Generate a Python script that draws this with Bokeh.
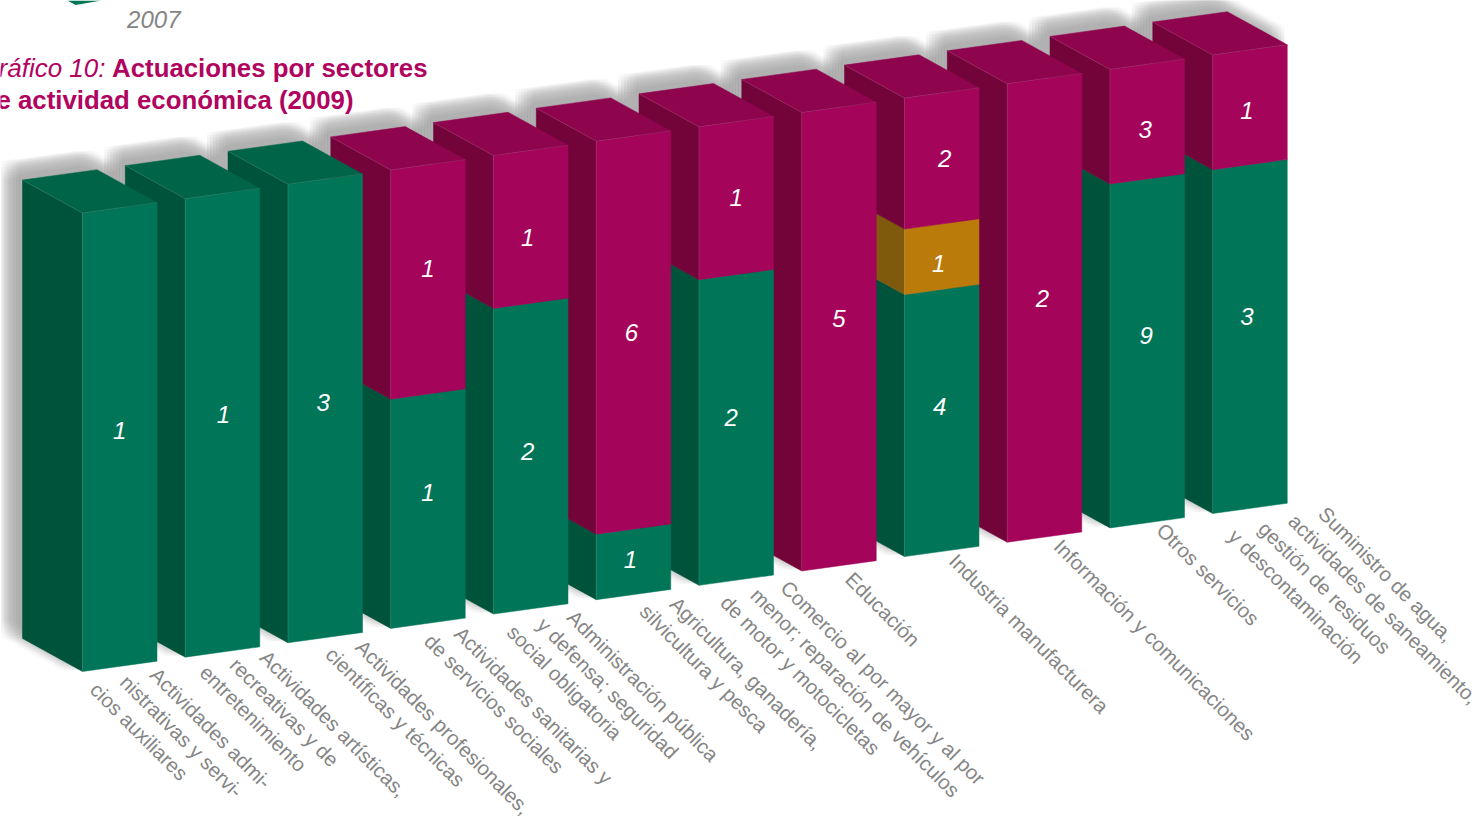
from bokeh.plotting import figure
from bokeh.models import Range1d
from bokeh.core.properties import value
from bokeh.embed import file_html
from bokeh.resources import INLINE
import numpy as np

# ---------- data ----------
categories = [
    ["Actividades admi-", "nistrativas y servi-", "cios auxiliares"],
    ["Actividades artísticas,", "recreativas y de", "entretenimiento"],
    ["Actividades profesionales,", "científicas y técnicas"],
    ["Actividades sanitarias y", "de servicios sociales"],
    ["Administración pública", "y defensa; seguridad", "social obligatoria"],
    ["Agricultura, ganadería,", "silvicultura y pesca"],
    ["Comercio al por mayor y al por", "menor; reparación de vehículos", "de motor y motocicletas"],
    ["Educación"],
    ["Industria manufacturera"],
    ["Información y comunicaciones"],
    ["Otros servicios"],
    ["Suministro de agua,", "actividades de saneamiento,", "gestión de residuos", "y descontaminación"],
]
green   = [1, 1, 3, 1, 2, 1, 2, 0, 4, 0, 9, 3]
orange  = [0, 0, 0, 0, 0, 0, 0, 0, 1, 0, 0, 0]
magenta = [0, 0, 0, 1, 1, 6, 1, 5, 2, 2, 3, 1]

title_lead = "Gráfico 10:"
title_line1 = "Actuaciones por sectores"
title_line2 = "de actividad económica (2009)"
prev_chart_year = "2007"

# ---------- styles ----------
COLORS = {
    "green":   dict(front="#007558", side="#00533b", top="#006548"),
    "orange":  dict(front="#bb7b0b", side="#7f5a0c", top="#9c680b"),
    "magenta": dict(front="#a4045a", side="#730439", top="#8e054e"),
}
TITLE = "#b0045f"
GREY = "#858585"
FONT = value("Liberation Sans")

# ---------- oblique projection ----------
ORIGIN = np.array([82.0, 671.0])
STEP = np.array([102.75, -14.36])
WIDE = np.array([74.5, -10.3])
DEEP = np.array([-60.0, -33.0])
TALL = np.array([0.0, -458.5])


def pr(i, u, d, share):
    return ORIGIN + i * STEP + u * WIDE + d * DEEP + share * TALL


p = figure(width=1478, height=818, output_backend="svg", toolbar_location=None,
           x_range=Range1d(0, 1478), y_range=Range1d(818, 0),
           min_border=0, outline_line_color=None)
p.axis.visible = False
p.grid.visible = False
p.background_fill_color = "white"

# ---------- soft shadow ----------
sx, sy = [], []
offs = np.linspace(-9, 9, 7)
for i in range(12):
    sil = [pr(i, 0, 1, 1), pr(i, 1, 1, 1), pr(i, 1, 0, 1), pr(i, 1, 0, 0), pr(i, 0, 0, 0), pr(i, 0, 1, 0)]
    sil = np.array(sil)
    for dx in offs:
        for dy in offs:
            sx.append(list(sil[:, 0] - 12 + dx))
            sy.append(list(sil[:, 1] - 10 + dy))
p.patches(sx, sy, fill_color="#ababab", fill_alpha=0.05, line_color=None)

# remnant of the previous chart, cut by the page top
p.patch([67, 101, 75], [0, 0, 4.5], fill_color=COLORS["green"]["front"], line_color=None)

# ---------- bars, drawn from the far one to the near one ----------
for i in range(11, -1, -1):
    total = green[i] + orange[i] + magenta[i]
    xs, ys, cs = [], [], []
    base = 0.0
    last = None
    for name, v in (("green", green[i]), ("orange", orange[i]), ("magenta", magenta[i])):
        if not v:
            continue
        lo, hi = base / total, (base + v) / total
        base += v
        side = np.array([pr(i, 0, 1, lo), pr(i, 0, 0, lo), pr(i, 0, 0, hi), pr(i, 0, 1, hi)])
        front = np.array([pr(i, 0, 0, lo), pr(i, 1, 0, lo), pr(i, 1, 0, hi), pr(i, 0, 0, hi)])
        xs += [list(side[:, 0]), list(front[:, 0])]
        ys += [list(side[:, 1]), list(front[:, 1])]
        cs += [COLORS[name]["side"], COLORS[name]["front"]]
        last = name
    top = np.array([pr(i, 0, 1, 1), pr(i, 1, 1, 1), pr(i, 1, 0, 1), pr(i, 0, 0, 1)])
    xs.append(list(top[:, 0]))
    ys.append(list(top[:, 1]))
    cs.append(COLORS[last]["top"])
    p.patches(xs, ys, fill_color=cs, line_color=cs, line_width=0.5)
    edges = [
        [pr(i, 0, 0, 0), pr(i, 0, 0, 1), pr(i, 1, 0, 1)],
        [pr(i, 0, 0, 1), pr(i, 0, 1, 1)],
    ]
    p.multi_line([[q[0] for q in e] for e in edges], [[q[1] for q in e] for e in edges],
                 line_color="white", line_alpha=0.15, line_width=0.7)

# ---------- value labels ----------
nudge = {
    (0, "green"): (0, -7), (1, "green"): (1, -8), (2, "green"): (-2, -6),
    (3, "green"): (0, -16), (3, "magenta"): (0, -11),
    (4, "green"): (-3, -5), (4, "magenta"): (-3, 11),
    (5, "green"): (-3, -2), (5, "magenta"): (-2, 0),
    (6, "green"): (-5, -10), (6, "magenta"): (0, -1),
    (7, "magenta"): (0, -18),
    (8, "green"): (-2, -14), (8, "orange"): (-3, 7), (8, "magenta"): (3, 0),
    (9, "magenta"): (-2, -9),
    (10, "green"): (-1, -15), (10, "magenta"): (-2, 8),
    (11, "green"): (-3, -20), (11, "magenta"): (-3, 3),
}
lx, ly, lt = [], [], []
for i in range(12):
    total = green[i] + orange[i] + magenta[i]
    base = 0
    for name, v in (("green", green[i]), ("orange", orange[i]), ("magenta", magenta[i])):
        if not v:
            continue
        c = pr(i, 0.5, 0, (base + v / 2) / total)
        base += v
        n = nudge[(i, name)]
        lx.append(c[0] + n[0])
        ly.append(c[1] + n[1])
        lt.append(str(v))
p.text(lx, ly, text=lt, text_color="white", text_font=FONT, text_font_style="italic",
       text_font_size="24px", text_align="center", text_baseline="middle")

# ---------- category labels ----------
LINE_STEP = np.array([-30.0, 7.5])
first_line_shift = [34, 41, 34, 30, 40, 40, 48, 10, 11, 13, 13, 72]
first_line_drop = [5, 2, 6, 7, 5, 6, 4, 10, 6, 6, 4, 2]
cx, cy, ct = [], [], []
for i, lines in enumerate(categories):
    start = pr(i, 0.5, 0, 0) + np.array([first_line_shift[i], first_line_drop[i]])
    for k, line in enumerate(lines):
        q = start + k * LINE_STEP
        cx.append(q[0])
        cy.append(q[1])
        ct.append(line)
p.text(cx, cy, text=ct, angle=-45, angle_units="deg", text_color=GREY, text_font=FONT,
       text_font_size="20.4px", text_align="left", text_baseline="middle")

# ---------- titles ----------
p.text([180], [19], text=[prev_chart_year], text_color="#858585", text_font=FONT,
       text_font_style="italic", text_font_size="24px", text_align="right", text_baseline="middle")
p.text([105], [67], text=[title_lead], text_color=TITLE, text_font=FONT,
       text_font_style="italic", text_font_size="26px", text_align="right", text_baseline="middle")
p.text([427], [67], text=[title_line1], text_color=TITLE, text_font=FONT,
       text_font_style="bold", text_font_size="25.8px", text_align="right", text_baseline="middle")
p.text([353], [99], text=[title_line2], text_color=TITLE, text_font=FONT,
       text_font_style="bold", text_font_size="25.8px", text_align="right", text_baseline="middle")

open("out.html", "w").write(file_html(p, INLINE))
